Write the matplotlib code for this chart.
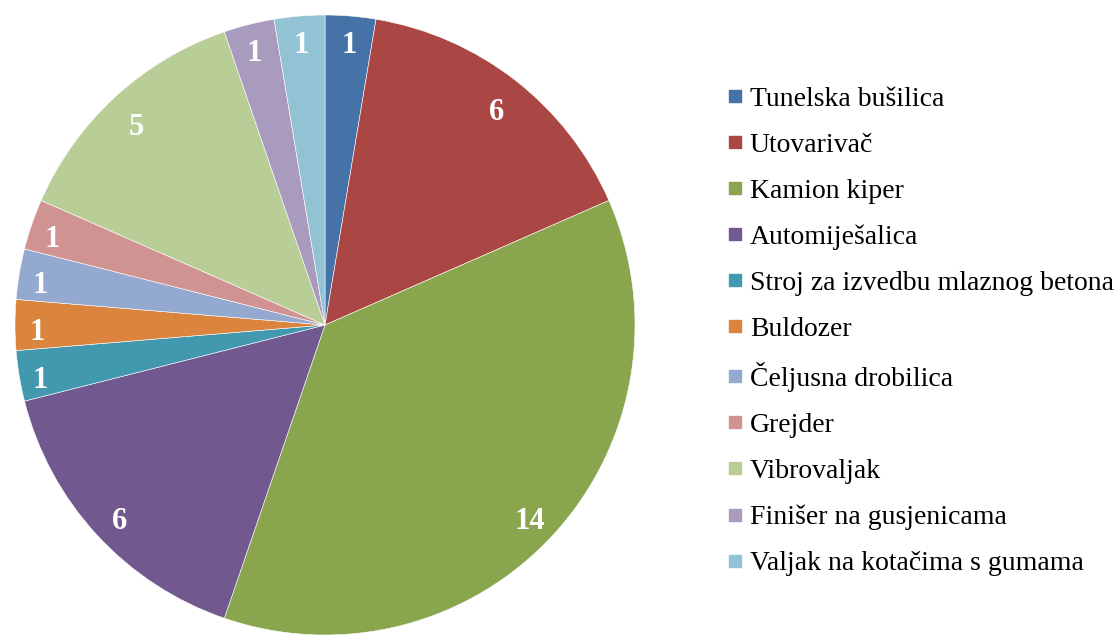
import matplotlib
matplotlib.use("Agg")
import matplotlib.pyplot as plt
from matplotlib.lines import Line2D
import numpy as np

categories = ["Tunelska bušilica", "Utovarivač", "Kamion kiper", "Automiješalica",
              "Stroj za izvedbu mlaznog betona", "Buldozer", "Čeljusna drobilica",
              "Grejder", "Vibrovaljak", "Finišer na gusjenicama", "Valjak na kotačima s gumama"]
values = [1, 6, 14, 6, 1, 1, 1, 1, 5, 1, 1]
colors = ["#4572A7", "#AA4643", "#89A54E", "#71588F", "#4198AF", "#DB843D",
          "#93A9CF", "#D19392", "#B9CD96", "#A99BBD", "#92C3D4"]

W, H = 1118, 636
fig = plt.figure(figsize=(W / 100, H / 100), dpi=100)
cx, cy, r = 325, 325, 310
ax = fig.add_axes([(cx - r) / W, (H - cy - r) / H, 2 * r / W, 2 * r / H])
wedges, _ = ax.pie(values, colors=colors, startangle=90, counterclock=False,
                   wedgeprops=dict(edgecolor="white", linewidth=0.4))
ax.set_xlim(-1, 1)
ax.set_ylim(-1, 1)
ax.set_aspect("equal")

for w, v in zip(wedges, values):
    ang = np.deg2rad((w.theta1 + w.theta2) / 2)
    d = 0.9 if v >= 5 else 0.93
    ax.text(d * np.cos(ang), d * np.sin(ang) - 0.025, str(v), ha="center", va="center",
            color="white", fontsize=22, fontweight="bold", family="Liberation Serif")

handles = [Line2D([], [], marker="s", linestyle="none", markersize=9,
                  markerfacecolor=c, markeredgecolor=c) for c in colors]
fig.legend(handles, categories, loc="upper left", bbox_to_anchor=(716 / W, 1 - 75 / H),
           frameon=False, prop=dict(family="Liberation Serif", size=20),
           handlelength=0.6, handletextpad=0.22, labelspacing=0.74, borderaxespad=0)

fig.savefig("out.png", dpi=100)
